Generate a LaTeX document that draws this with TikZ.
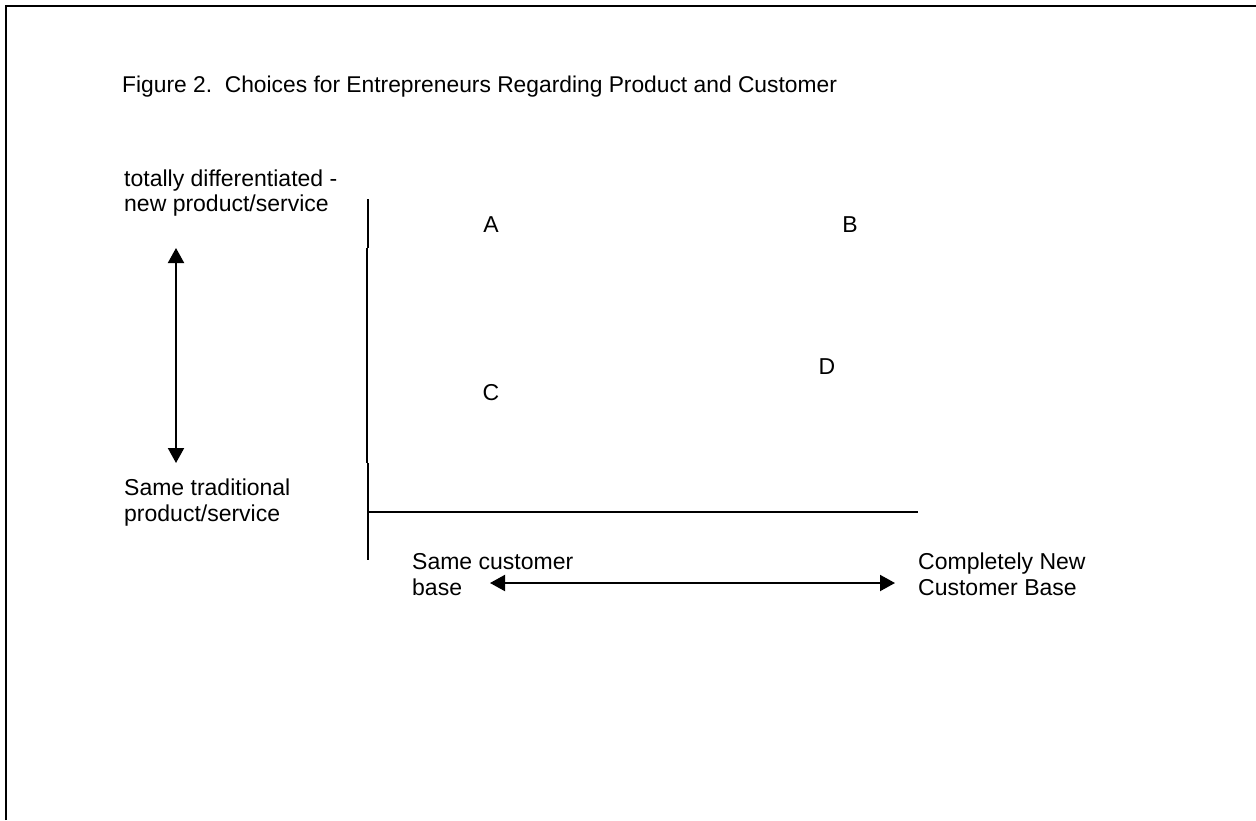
\documentclass[tikz,border=0pt]{standalone}
\usepackage{fontspec}
\setmainfont{Liberation Sans}
\usetikzlibrary{arrows.meta}
\begin{document}
\begin{tikzpicture}[x=1pt,y=-1pt,
  lbl/.style={anchor=base west,inner sep=0pt,font=\fontsize{23}{26}\selectfont},
  letter/.style={anchor=base,inner sep=0pt,font=\fontsize{23}{26}\selectfont},
  axis/.style={line width=2pt},
  dbl/.style={line width=2pt,{Triangle[width=16pt,length=15pt]}-{Triangle[width=16pt,length=15pt]}},
  frame/.style={line width=2.8pt}]
\useasboundingbox (0,0) rectangle (1256,820);
% frame (top and left)
\coordinate (f1) at (6,820);
\coordinate (f2) at (6,6);
\coordinate (f3) at (1256,6);
\draw[frame] (f1) -- (f2) -- (f3);
% title
\node[lbl,font=\fontsize{22.8}{26}\selectfont] (title) at (122,92) {Figure 2.\ \ Choices for Entrepreneurs Regarding Product and Customer};
% vertical axis labels
\node[lbl] (top1) at (124,186) {totally differentiated -};
\node[lbl] (top2) at (124,211) {new product/service};
\node[lbl] (bot1) at (124,495) {Same traditional};
\node[lbl] (bot2) at (124,521) {product/service};
% horizontal axis labels
\node[lbl] (sc1) at (412,569) {Same customer};
\node[lbl] (sc2) at (412,595) {base};
\node[lbl] (nc1) at (918,569) {Completely New};
\node[lbl] (nc2) at (918,595) {Customer Base};
% quadrant letters
\node[letter] (A) at (491,232) {A};
\node[letter] (B) at (850,232) {B};
\node[letter] (C) at (491,400) {C};
\node[letter] (D) at (827,374) {D};
% axes
\coordinate (v1) at (368,199);
\coordinate (v2) at (368,248);
\coordinate (v3) at (367,248);
\coordinate (v4) at (367,463);
\coordinate (v5) at (368,463);
\coordinate (v6) at (368,560);
\coordinate (h1) at (368,512);
\coordinate (h2) at (918,512);
\draw[axis] (v1) -- (v2);
\draw[axis] (v3) -- (v4);
\draw[axis] (v5) -- (v6);
\draw[axis] (h1) -- (h2);
% arrows
\coordinate (ua) at (176,248);
\coordinate (da) at (176,463);
\draw[dbl] (ua) -- (da);
\coordinate (la) at (490,583);
\coordinate (ra) at (895,583);
\draw[dbl] (la) -- (ra);
\end{tikzpicture}
\end{document}
